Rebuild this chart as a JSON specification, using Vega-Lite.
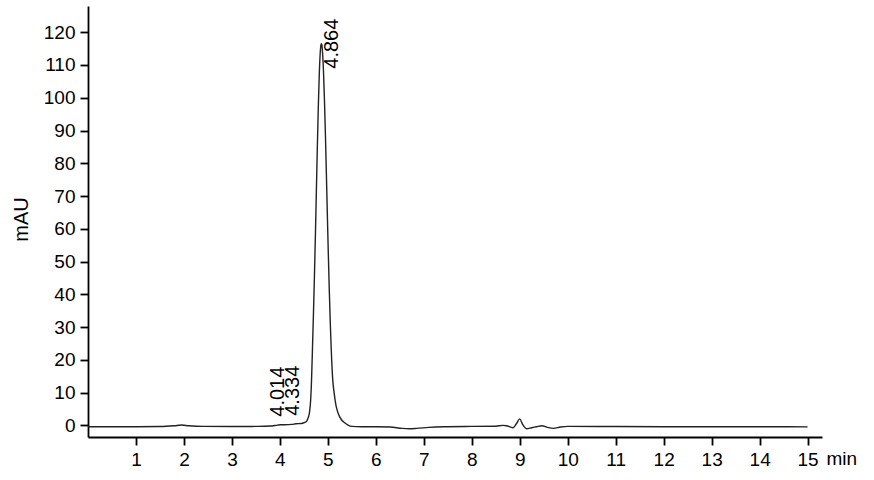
{
  "$schema": "https://vega.github.io/schema/vega-lite/v6.json",
  "width": 734,
  "height": 431,
  "autosize": {"type": "none"},
  "padding": {"left": 88, "top": 6, "right": 52, "bottom": 43},
  "background": "white",
  "datasets": {
    "trace": [
      {"t": 0.0, "v": -0.4}, {"t": 0.5, "v": -0.4}, {"t": 1.0, "v": -0.4},
      {"t": 1.5, "v": -0.35}, {"t": 1.8, "v": -0.1}, {"t": 1.95, "v": 0.1},
      {"t": 2.1, "v": -0.1}, {"t": 2.4, "v": -0.3}, {"t": 3.0, "v": -0.35},
      {"t": 3.5, "v": -0.3}, {"t": 3.8, "v": -0.2}, {"t": 3.95, "v": 0.1},
      {"t": 4.014, "v": 0.2}, {"t": 4.1, "v": 0.2}, {"t": 4.25, "v": 0.3},
      {"t": 4.334, "v": 0.5}, {"t": 4.45, "v": 0.6}, {"t": 4.52, "v": 0.9},
      {"t": 4.56, "v": 1.3}, {"t": 4.58, "v": 2.0}, {"t": 4.6, "v": 2.8},
      {"t": 4.62, "v": 4.3}, {"t": 4.64, "v": 7.5}, {"t": 4.66, "v": 14},
      {"t": 4.68, "v": 24}, {"t": 4.7, "v": 34.4}, {"t": 4.72, "v": 45.6},
      {"t": 4.74, "v": 58}, {"t": 4.76, "v": 71.3}, {"t": 4.78, "v": 84.6},
      {"t": 4.8, "v": 96.7}, {"t": 4.82, "v": 106.7}, {"t": 4.84, "v": 113.5},
      {"t": 4.855, "v": 116.1}, {"t": 4.864, "v": 116.5}, {"t": 4.875, "v": 116.1},
      {"t": 4.89, "v": 113.6}, {"t": 4.91, "v": 107.5}, {"t": 4.93, "v": 98.8},
      {"t": 4.95, "v": 88.1}, {"t": 4.97, "v": 76.2}, {"t": 4.99, "v": 63.9},
      {"t": 5.01, "v": 52.0}, {"t": 5.03, "v": 41.1}, {"t": 5.05, "v": 31.5},
      {"t": 5.07, "v": 23.4}, {"t": 5.1, "v": 14.2}, {"t": 5.13, "v": 10},
      {"t": 5.17, "v": 6}, {"t": 5.22, "v": 3.5}, {"t": 5.28, "v": 1.8},
      {"t": 5.35, "v": 0.8}, {"t": 5.42, "v": 0.1}, {"t": 5.5, "v": -0.3},
      {"t": 5.7, "v": -0.4}, {"t": 6.0, "v": -0.4}, {"t": 6.3, "v": -0.5},
      {"t": 6.55, "v": -0.9}, {"t": 6.7, "v": -1.0}, {"t": 6.85, "v": -0.9},
      {"t": 7.1, "v": -0.6}, {"t": 7.4, "v": -0.4}, {"t": 8.0, "v": -0.3},
      {"t": 8.5, "v": -0.25}, {"t": 8.65, "v": 0.0}, {"t": 8.72, "v": -0.1},
      {"t": 8.86, "v": -0.7}, {"t": 8.93, "v": 0.5}, {"t": 9.0, "v": 2.0},
      {"t": 9.06, "v": 0.3}, {"t": 9.14, "v": -1.0}, {"t": 9.25, "v": -0.7},
      {"t": 9.35, "v": -0.4}, {"t": 9.46, "v": -0.1}, {"t": 9.58, "v": -0.6},
      {"t": 9.7, "v": -0.9}, {"t": 9.85, "v": -0.5}, {"t": 10.0, "v": -0.3},
      {"t": 11.0, "v": -0.35}, {"t": 12.0, "v": -0.4}, {"t": 13.0, "v": -0.4},
      {"t": 14.0, "v": -0.4}, {"t": 15.0, "v": -0.45}
    ],
    "peaks": [
      {"t": 4.014, "v": 0.2, "label": "4.014", "major": false},
      {"t": 4.334, "v": 0.5, "label": "4.334", "major": false},
      {"t": 4.864, "v": 116.5, "label": "4.864", "major": true}
    ]
  },
  "encoding": {
    "x": {
      "field": "t",
      "type": "quantitative",
      "scale": {"domain": [0, 15.3], "nice": false, "zero": false},
      "axis": {
        "values": [1, 2, 3, 4, 5, 6, 7, 8, 9, 10, 11, 12, 13, 14, 15],
        "title": "min",
        "titleX": 738,
        "titleY": 21,
        "titleAlign": "left",
        "titleBaseline": "middle",
        "labelPadding": 5,
        "labelOverlap": false
      }
    },
    "y": {
      "field": "v",
      "type": "quantitative",
      "scale": {"domain": [-3.54, 128], "nice": false, "zero": false},
      "axis": {
        "values": [0, 10, 20, 30, 40, 50, 60, 70, 80, 90, 100, 110, 120],
        "title": "mAU",
        "titleX": -67,
        "titleY": 213,
        "titleAngle": 270,
        "titleAlign": "center",
        "titleBaseline": "middle",
        "titleFontSize": 20,
        "labelPadding": 5,
        "labelOverlap": false
      }
    }
  },
  "layer": [
    {
      "data": {"name": "trace"},
      "mark": {"type": "line", "color": "#222222", "strokeWidth": 1.4, "interpolate": "monotone"}
    },
    {
      "data": {"name": "peaks"},
      "transform": [{"filter": "datum.major"}],
      "mark": {"type": "text", "angle": 270, "align": "center", "baseline": "middle", "dx": 0, "dy": 11, "fontSize": 20, "font": "Liberation Sans", "color": "black"},
      "encoding": {"text": {"field": "label"}}
    },
    {
      "data": {"name": "peaks"},
      "transform": [{"filter": "!datum.major"}],
      "mark": {"type": "text", "angle": 270, "align": "left", "baseline": "middle", "dx": 8, "dy": -3, "fontSize": 20, "font": "Liberation Sans", "color": "black"},
      "encoding": {"text": {"field": "label"}}
    }
  ],
  "config": {
    "view": {"stroke": null},
    "axis": {
      "grid": false,
      "domainColor": "black",
      "domainWidth": 1.8,
      "tickColor": "black",
      "tickWidth": 1.8,
      "tickSize": 8,
      "labelOverlap": false,
      "labelFont": "Liberation Sans",
      "labelFontSize": 19,
      "labelColor": "black",
      "titleFont": "Liberation Sans",
      "titleFontSize": 19,
      "titleFontWeight": "normal",
      "titleColor": "black"
    }
  }
}
